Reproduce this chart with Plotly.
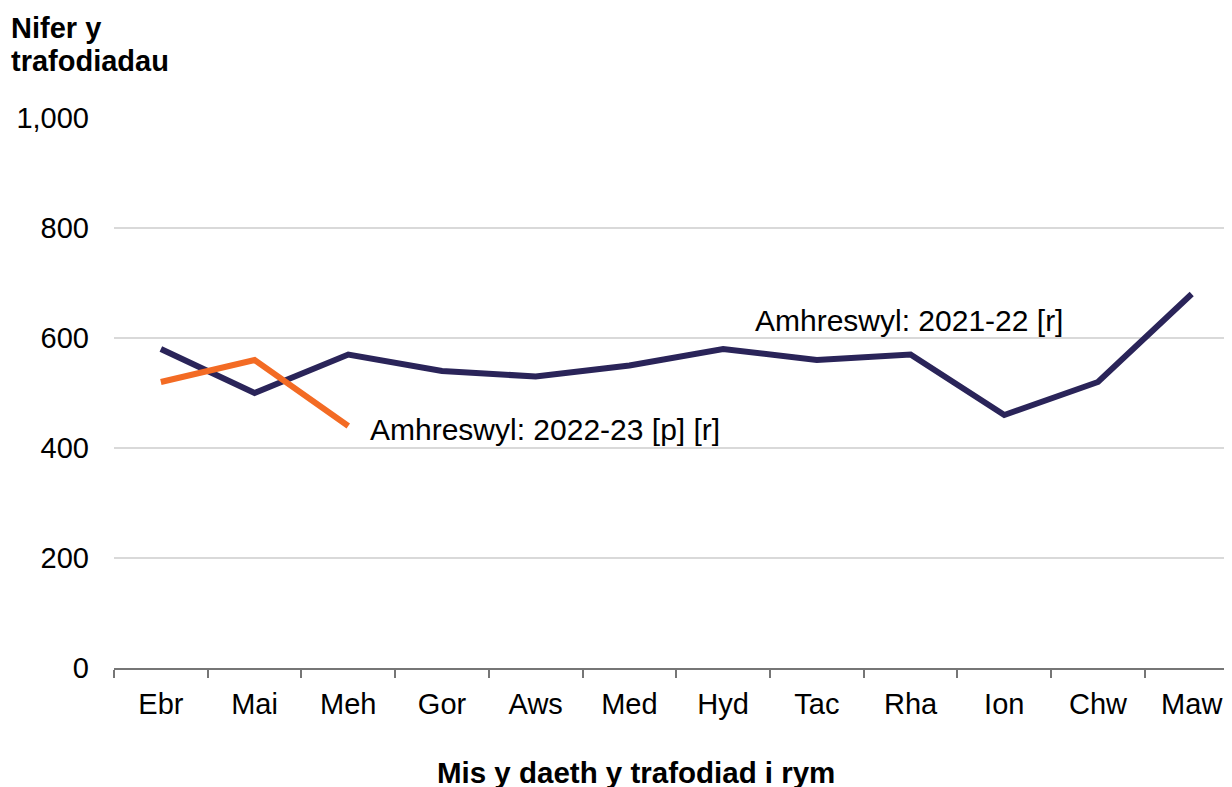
import plotly.graph_objects as go

months = ["Ebr", "Mai", "Meh", "Gor", "Aws", "Med", "Hyd", "Tac", "Rha", "Ion", "Chw", "Maw"]
series_2021_22 = [580, 500, 570, 540, 530, 550, 580, 560, 570, 460, 520, 680]
series_2022_23 = [520, 560, 440]
y_ticks = [0, 200, 400, 600, 800, 1000]
y_tick_labels = ["0", "200", "400", "600", "800", "1,000"]

FONT = "Liberation Sans, Arial, sans-serif"
FS_TICK = 29
FS_ANN = 30
FS_YT = 29
W, H = 1232, 787
OFF = 8  # browser body margin
# target viewport positions of plot area: left 114, top 118, right 1232, bottom 668
L = 114 - OFF
T = 118 - OFF
R = W - (1232 - OFF)
B = H - (668 - OFF)
plot_w = W - L - R
plot_h = H - T - B


def px_x(vx):
    return (vx - OFF - L) / plot_w


def px_y(vy):
    return 1 - (vy - OFF - T) / plot_h


fig = go.Figure()
fig.add_trace(go.Scatter(x=months, y=series_2021_22, mode="lines",
                         line=dict(color="#2a2459", width=6), hoverinfo="skip",
                         showlegend=False))
fig.add_trace(go.Scatter(x=months[:len(series_2022_23)], y=series_2022_23, mode="lines",
                         line=dict(color="#f36b24", width=6), hoverinfo="skip",
                         showlegend=False))

fig.update_layout(
    width=W, height=H,
    margin=dict(l=L, r=R, t=T, b=B),
    paper_bgcolor="white", plot_bgcolor="white",
    font=dict(family=FONT, size=FS_TICK, color="black"),
    xaxis=dict(type="category", categoryorder="array", categoryarray=months,
               range=[-0.5, 11.43], showgrid=False, showline=True,
               linecolor="#767676", linewidth=2, ticks="outside",
               tickson="boundaries", ticklen=8, tickwidth=2, tickcolor="#767676",
               ticklabelstandoff=9,
               tickfont=dict(size=FS_TICK), zeroline=False, fixedrange=True),
    yaxis=dict(range=[0, 1000], tickvals=y_ticks, ticktext=y_tick_labels,
               showgrid=True, gridcolor="#d9d9d9", gridwidth=2,
               zeroline=False, showline=False, ticks="", ticklabelstandoff=24,
               tickfont=dict(size=FS_TICK), fixedrange=True),
)

fig.add_annotation(text="<b>Nifer y</b>", xref="paper", yref="paper",
                   x=px_x(9), y=px_y(28), xanchor="left", yanchor="middle",
                   showarrow=False, font=dict(size=FS_YT, family=FONT))
fig.add_annotation(text="<b>trafodiadau</b>", xref="paper", yref="paper",
                   x=px_x(9), y=px_y(61), xanchor="left", yanchor="middle",
                   showarrow=False, font=dict(size=FS_YT, family=FONT))
fig.add_annotation(text="<b>Mis y daeth y trafodiad i rym</b>", xref="paper", yref="paper",
                   x=px_x(636), y=px_y(772), xanchor="center", yanchor="middle",
                   showarrow=False, font=dict(size=29.5, family=FONT))
fig.add_annotation(text="Amhreswyl: 2021-22 [r]", x=6.32, y=631, xref="x", yref="y",
                   xanchor="left", yanchor="middle", showarrow=False,
                   font=dict(size=FS_ANN, family=FONT))
fig.add_annotation(text="Amhreswyl: 2022-23 [p] [r]", x=2.21, y=433, xref="x", yref="y",
                   xanchor="left", yanchor="middle", showarrow=False,
                   font=dict(size=FS_ANN, family=FONT))

fig.write_html("out.html")
